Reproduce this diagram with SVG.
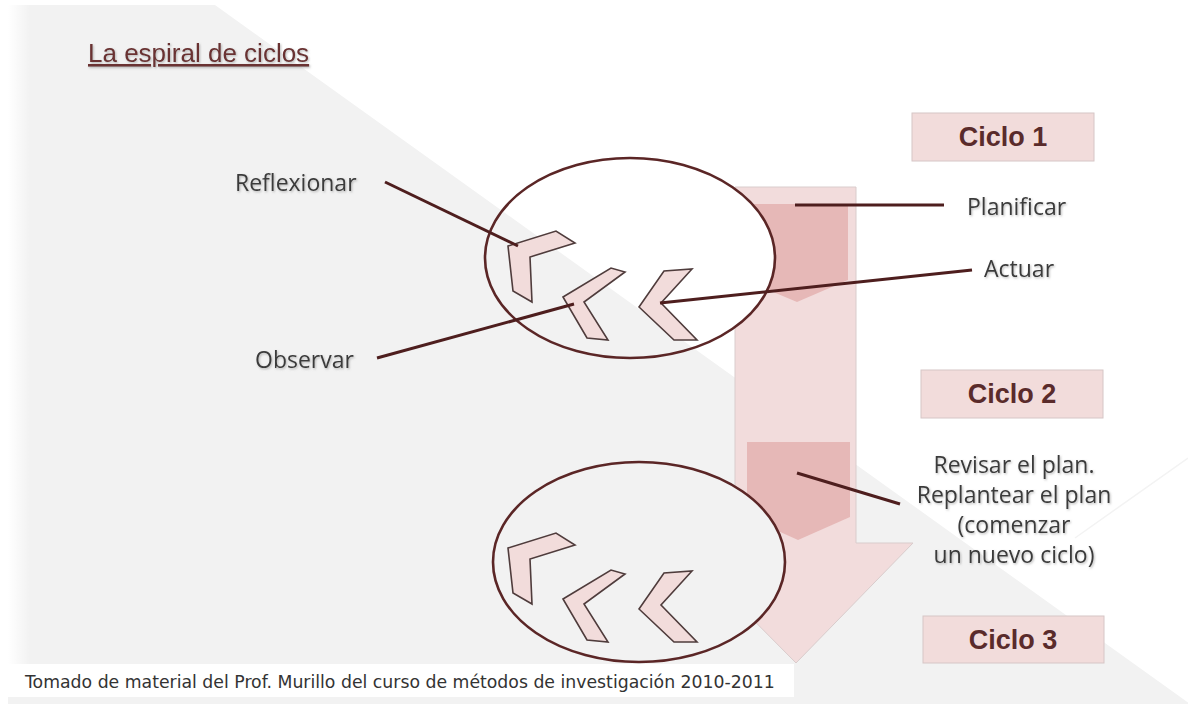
<svg xmlns="http://www.w3.org/2000/svg" width="1188" height="704" viewBox="0 0 1188 704">
<defs>
<style>
.lbl{font-family:"Open Sans","Liberation Sans",sans-serif;font-size:23px;fill:#3a3a3a;filter:url(#sh)}
.cyc rect{fill:#f2dcdb;stroke:#d6c6c6;stroke-width:1}
.cyc text{font-family:"Liberation Sans",Arial,sans-serif;font-weight:bold;font-size:27px;fill:#5a2b2b;text-anchor:middle}
.chev{fill:#f2dcdb;stroke:#4f3c3c;stroke-width:1.6;stroke-linejoin:miter}
.ell{fill:none;stroke:#5b2626;stroke-width:2.6}
.con line{stroke:#4e1e1e;stroke-width:3;stroke-linecap:butt}
</style>
<filter id="sh" x="-10%" y="-30%" width="130%" height="170%">
<feDropShadow dx="1" dy="1.2" stdDeviation="0.9" flood-color="#8a8a8a" flood-opacity="0.6"/>
</filter>
<linearGradient id="gfade" x1="0" y1="0" x2="1" y2="0">
<stop offset="0" stop-color="#ffffff" stop-opacity="1"/>
<stop offset="1" stop-color="#ffffff" stop-opacity="0"/>
</linearGradient>
<clipPath id="clipE1"><ellipse cx="630" cy="258" rx="145" ry="100"/></clipPath>
<polygon id="bgpoly" points="8,5 215,5 1190,704 8,704"/>
<g id="chevrons">
<polygon class="chev" points="508,246 556,231 575,243 530,257 532,302 513,291"/>
<polygon class="chev" points="563,297 611,268 625,272 584,302 608,340 587,338"/>
<polygon class="chev" points="639,307 664,271 692,269 661,303 697,340 674,340"/>
</g>
</defs>

<!-- background -->
<rect x="0" y="0" width="1188" height="704" fill="#ffffff"/>
<use href="#bgpoly" fill="#f2f2f2"/>
<rect x="8" y="5" width="22" height="660" fill="url(#gfade)"/>
<line x1="1188" y1="458" x2="1075" y2="538" stroke="#f3f3f3" stroke-width="1.5"/>
<rect x="8" y="664" width="786" height="33" fill="#ffffff"/>

<!-- big arrow -->
<g id="big-arrow">
<polygon points="735,187 856,187 856,543 913,543 796,663 677,543 735,543" fill="#f2dcdc" stroke="#d9cccc" stroke-width="1"/>
<polygon points="745,204 848,204 848,280 797,302 745,280" fill="#e6b8b7"/>
<polygon points="747,442 850,442 850,517 798,540 747,517" fill="#e6b8b7"/>
</g>

<!-- cycle 1 ellipse -->
<g id="espiral-1">
<ellipse cx="630" cy="258" rx="145" ry="100" fill="#ffffff"/>
<use href="#bgpoly" fill="#f2f2f2" clip-path="url(#clipE1)"/>
<use href="#chevrons"/>
<ellipse class="ell" cx="630" cy="258" rx="145" ry="100"/>
</g>

<!-- cycle 2 ellipse -->
<g id="espiral-2">
<ellipse cx="639" cy="562" rx="146" ry="100" fill="#f2f2f2"/>
<use href="#chevrons" transform="translate(0,302)"/>
<ellipse class="ell" cx="639" cy="562" rx="146" ry="100"/>
</g>

<!-- connectors -->
<g id="connectors" class="con">
<line x1="385" y1="182" x2="518" y2="246"/>
<line x1="377" y1="358" x2="574" y2="304"/>
<line x1="795" y1="205" x2="944" y2="205"/>
<line x1="660" y1="303" x2="972" y2="270"/>
<line x1="797" y1="473" x2="900" y2="504"/>
</g>

<!-- title -->
<g id="title">
<text x="88" y="62" font-family="Liberation Sans, Arial, sans-serif" font-size="26" fill="#6a3030" text-decoration="underline" filter="url(#sh)">La espiral de ciclos</text>
</g>

<!-- cycle boxes -->
<g id="ciclo-1" class="cyc"><rect x="912" y="113" width="182" height="48"/><text x="1003" y="146">Ciclo 1</text></g>
<g id="ciclo-2" class="cyc"><rect x="921" y="370" width="182" height="48"/><text x="1012" y="403">Ciclo 2</text></g>
<g id="ciclo-3" class="cyc"><rect x="923" y="616" width="181" height="47"/><text x="1013" y="649">Ciclo 3</text></g>

<!-- labels -->
<g id="lbl-reflexionar"><text class="lbl" x="235" y="191">Reflexionar</text></g>
<g id="lbl-observar"><text class="lbl" x="255" y="368">Observar</text></g>
<g id="lbl-planificar"><text class="lbl" x="967" y="215">Planificar</text></g>
<g id="lbl-actuar"><text class="lbl" x="984" y="277">Actuar</text></g>
<g id="lbl-revisar">
<text class="lbl" x="1014" y="473" text-anchor="middle">Revisar el plan.</text>
<text class="lbl" x="1014" y="503" text-anchor="middle">Replantear el plan</text>
<text class="lbl" x="1014" y="533" text-anchor="middle">(comenzar</text>
<text class="lbl" x="1014" y="563" text-anchor="middle">un nuevo ciclo)</text>
</g>

<!-- footer -->
<g id="footer">
<text x="25" y="688" font-family="DejaVu Sans, sans-serif" font-size="17.3" fill="#333333">Tomado de material del Prof. Murillo del curso de métodos de investigación 2010-2011</text>
</g>
</svg>
